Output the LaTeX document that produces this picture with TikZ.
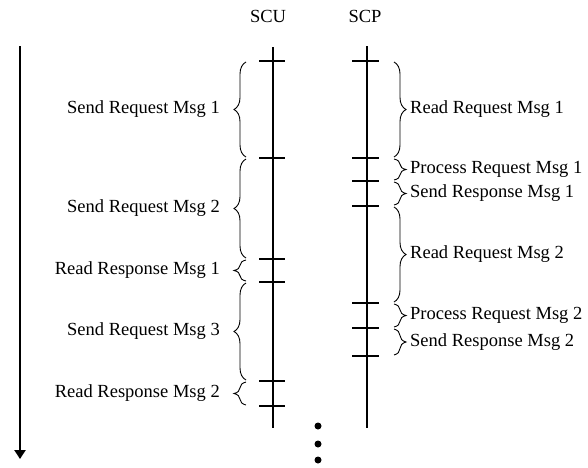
\documentclass[tikz,border=0pt]{standalone}
\usepackage{fontspec}
\setmainfont{Liberation Serif}
\usetikzlibrary{decorations.pathreplacing,arrows.meta}

\begin{document}
\begin{tikzpicture}[x=1pt,y=-1pt]
  \tikzset{msg brace/.style={decorate,decoration={brace,amplitude=12pt},line width=0.9pt},
           msg label/.style={font=\fontsize{18.5}{21}\selectfont,inner sep=1pt},
           life line/.style={line width=1.1pt}}
  \useasboundingbox (0,0) rectangle (588,467);

  \node [msg label] (SCU) at (268,16) {SCU};
  \node [msg label] (SCP) at (365,16) {SCP};

  \coordinate (time top) at (20,46);
  \coordinate (time bot) at (20,459);
  \draw [line width=2.8pt,-{Triangle[width=11pt,length=9pt]}] (time top) -- (time bot);

  \coordinate (SCU top) at (273,47);
  \coordinate (SCU bot) at (273,428);
  \coordinate (SCP top) at (367,46);
  \coordinate (SCP bot) at (367,428);
  \draw [life line] (SCU top) -- (SCU bot);
  \draw [life line] (SCP top) -- (SCP bot);
  \foreach \y in {61,158,259,282,381,406}
    \draw [life line] (259,\y) -- (285,\y);
  \foreach \y in {61,158,181,206,303,328,356}
    \draw [life line] (352,\y) -- (379,\y);

  \foreach \a/\b/\name/\txt in {61/158/sreq1/Send Request Msg 1,
                                 158/259/sreq2/Send Request Msg 2,
                                 259/282/rres1/Read Response Msg 1,
                                 282/381/sreq3/Send Request Msg 3,
                                 381/406/rres2/Read Response Msg 2}
  {
    \draw [msg brace] (246,\b-1) -- (246,\a+1);
    \node [msg label,anchor=east] (\name) at (221,{(\a+\b)/2}) {\txt};
  }

  \foreach \a/\b/\name/\txt in {61/158/rreq1/Read Request Msg 1,
                                 158/181/preq1/Process Request Msg 1,
                                 181/206/sres1/Send Response Msg 1,
                                 206/303/rreq2/Read Request Msg 2,
                                 303/328/preq2/Process Request Msg 2,
                                 328/356/sres2/Send Response Msg 2}
  {
    \draw [msg brace] (394,\a+1) -- (394,\b-1);
    \node [msg label,anchor=west] (\name) at (409,{(\a+\b)/2}) {\txt};
  }

  \foreach \y in {426,444,460}
    \fill (318,\y) circle (3.5);
\end{tikzpicture}
\end{document}
